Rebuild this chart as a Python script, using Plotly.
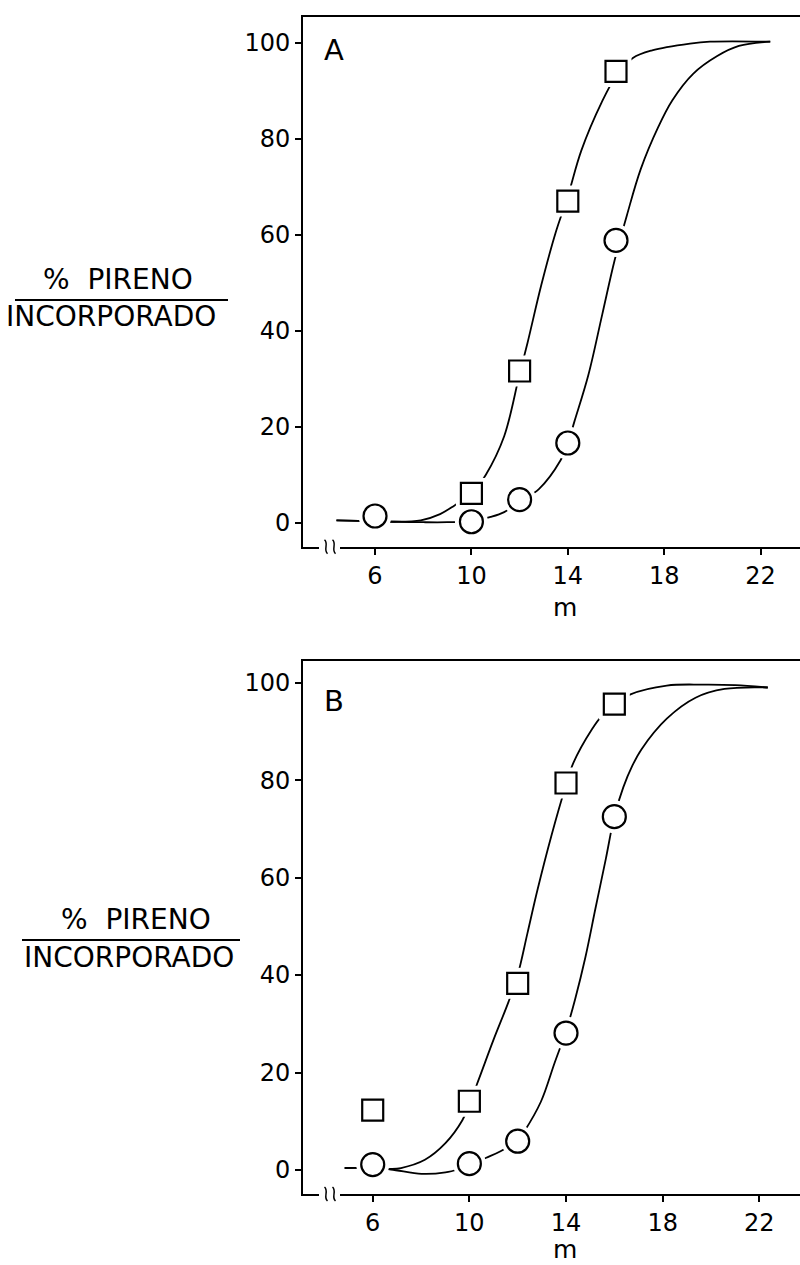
import plotly.graph_objects as go

# ---- data -------------------------------------------------------------
# chain length m on the x axis, % pyrene incorporated on the y axis
x_ticks = [6, 10, 14, 18, 22]
y_ticks = [0, 20, 40, 60, 80, 100]

# Panel A: measured points
a_sq_m = [10, 12, 14, 16]
a_sq_pct = [6.1, 31.6, 67.0, 94.0]
a_ci_m = [6, 10, 12, 14, 16]
a_ci_pct = [1.4, 0.2, 4.8, 16.6, 58.8]

# Panel A: hand-drawn fitted curves
a_sq_curve_m = [4.4, 5.3, 6.0, 6.8, 7.9, 8.7, 9.3, 10.0, 10.6, 11.36, 12.0, 12.33,
                12.9, 13.5, 14.0, 14.56, 15.4, 16.0, 16.7, 17.5, 19.07, 19.9, 22.4]
a_sq_curve_pct = [0.5, 0.4, 0.3, 0.2, 0.5, 1.8, 3.6, 6.0, 10.0, 18.0, 31.0, 37.5,
                  49.5, 60.5, 68.0, 77.5, 87.5, 93.0, 96.8, 98.4, 99.8, 100.2, 100.2]
a_ci_curve_m = [4.4, 5.3, 6.0, 6.8, 8.0, 9.0, 10.0, 10.8, 11.36, 12.0, 12.8, 13.7,
                14.0, 14.27, 14.85, 15.43, 15.94, 16.45, 17.03, 17.76, 18.34, 19.2,
                20.2, 21.1, 22.4]
a_ci_curve_pct = [0.5, 0.4, 0.3, 0.2, 0.1, 0.1, 0.3, 1.2, 2.2, 4.4, 7.0, 13.0,
                  16.5, 21.0, 30.7, 43.4, 54.6, 64.0, 73.7, 82.5, 88.0, 93.5,
                  97.2, 99.3, 100.2]

# Panel B: measured points
b_sq_m = [6, 10, 12, 14, 16]
b_sq_pct = [12.3, 14.1, 38.3, 79.4, 95.6]
b_ci_m = [6, 10, 12, 14, 16]
b_ci_pct = [1.1, 1.3, 5.9, 28.1, 72.5]

# Panel B: hand-drawn fitted curves
b_sq_curve_m = [4.84, 5.55, 6.0, 6.75, 7.17, 8.16, 9.01, 9.71, 10.0, 10.42, 10.99,
                11.62, 12.0, 12.4, 12.82, 13.39, 14.0, 14.3, 15.08, 15.5, 16.0,
                16.67, 18.17, 19.66, 21.0, 22.35]
b_sq_curve_pct = [0.4, 0.4, 0.3, 0.2, 0.4, 2.1, 5.5, 10.2, 13.5, 19.0, 26.6,
                  34.5, 40.0, 48.5, 57.5, 68.5, 79.0, 83.5, 90.5, 93.3, 95.5,
                  97.6, 99.4, 99.6, 99.5, 99.0]
b_ci_curve_m = [4.84, 5.55, 6.0, 6.75, 8.02, 9.01, 9.57, 10.0, 10.7, 11.27, 12.0,
                12.26, 12.96, 13.53, 14.0, 14.38, 14.8, 15.22, 15.65, 16.0, 16.37,
                16.75, 17.12, 18.17, 19.36, 20.56, 22.35]
b_ci_curve_pct = [0.4, 0.4, 0.3, 0.1, -0.8, -0.5, 0.2, 1.0, 2.5, 3.8, 6.0,
                  7.8, 14.0, 22.0, 28.5, 35.1, 43.6, 53.7, 63.9, 72.5, 78.5,
                  83.0, 86.3, 92.6, 96.9, 98.7, 99.0]

# ---- page geometry ------------------------------------------------------
W, H = 800, 1265
FONT = "DejaVu Sans"


def px(x):
    return x / W


def py(y):
    return 1 - y / H


fig = go.Figure()

panels = [
    dict(xa="x", ya="y",
         sq=(a_sq_m, a_sq_pct), ci=(a_ci_m, a_ci_pct),
         sq_curve=(a_sq_curve_m, a_sq_curve_pct),
         ci_curve=(a_ci_curve_m, a_ci_curve_pct)),
    dict(xa="x2", ya="y2",
         sq=(b_sq_m, b_sq_pct), ci=(b_ci_m, b_ci_pct),
         sq_curve=(b_sq_curve_m, b_sq_curve_pct),
         ci_curve=(b_ci_curve_m, b_ci_curve_pct)),
]

for p in panels:
    # fitted curves
    for cx, cy in (p["sq_curve"], p["ci_curve"]):
        fig.add_trace(go.Scatter(
            x=cx, y=cy, xaxis=p["xa"], yaxis=p["ya"], mode="lines",
            line=dict(color="black", width=1.8, shape="spline", smoothing=1.0),
            hoverinfo="skip", showlegend=False))
    # white halos so the curves stop short of the symbols
    for (mx, my), sym, size in ((p["sq"], "square", 31), (p["ci"], "circle", 33)):
        fig.add_trace(go.Scatter(
            x=mx, y=my, xaxis=p["xa"], yaxis=p["ya"], mode="markers",
            marker=dict(symbol=sym, size=size, color="white", line=dict(width=0)),
            hoverinfo="skip", showlegend=False))
    # open symbols
    for (mx, my), sym, size in ((p["sq"], "square", 21), (p["ci"], "circle", 23)):
        fig.add_trace(go.Scatter(
            x=mx, y=my, xaxis=p["xa"], yaxis=p["ya"], mode="markers",
            marker=dict(symbol=sym, size=size, color="white",
                        line=dict(color="black", width=2.2)),
            showlegend=False))

x_dom = [px(303), 1.0]
axis_common = dict(showgrid=False, zeroline=False, showline=True, linecolor="black",
                   linewidth=2, ticks="outside", ticklen=6, tickwidth=1.6,
                   tickcolor="black", tickfont=dict(family=FONT, size=24, color="black"))

fig.update_layout(
    width=W, height=H, margin=dict(l=0, r=0, t=0, b=0),
    paper_bgcolor="white", plot_bgcolor="white",
    xaxis=dict(domain=x_dom, range=[3.012, 23.635], anchor="y", mirror=True,
               tickvals=x_ticks, **axis_common),
    yaxis=dict(domain=[py(546.7), py(16.7)], range=[-5.0, 105.4], anchor="x",
               tickvals=y_ticks, **axis_common),
    xaxis2=dict(domain=x_dom, range=[3.115, 23.684], anchor="y2", mirror=True,
                tickvals=x_ticks, **axis_common),
    yaxis2=dict(domain=[py(1194), py(660.7)], range=[-4.93, 104.5], anchor="x2",
                tickvals=y_ticks, **axis_common),
)

annotations = []
shapes = []


def text(t, x, y, size):
    annotations.append(dict(text=t, x=px(x), y=py(y), xref="paper", yref="paper",
                            xanchor="center", yanchor="middle", showarrow=False,
                            font=dict(family=FONT, size=size, color="black")))


# panel letters
text("A", 334, 50.5, 29)
text("B", 333.5, 701, 29)
# x axis titles
text("m", 565, 607, 25)
text("m", 565, 1249, 25)
# y axis titles written as a fraction
for (cx1, cy1, lx0, lx1, ly, cx2, cy2) in ((117.5, 279, 15, 228, 300, 111, 316.5),
                                          (135.5, 919, 22, 240, 940, 128.5, 957.5)):
    text("%\u00a0\u00a0PIRENO", cx1, cy1, 28)
    text("INCORPORADO", cx2, cy2, 28)
    shapes.append(dict(type="line", xref="paper", yref="paper",
                       x0=px(lx0), x1=px(lx1), y0=py(ly), y1=py(ly),
                       line=dict(color="black", width=1.8)))

# axis break marks on the x axes
for ay in (546.7, 1194):
    shapes.append(dict(type="rect", xref="paper", yref="paper",
                       x0=px(319), x1=px(340), y0=py(ay + 3), y1=py(ay - 3),
                       fillcolor="white", line=dict(width=0), layer="above"))
    for sx in (326, 334):
        path = (f"M {px(sx - 1.5)},{py(ay - 7)} "
                f"C {px(sx + 3)},{py(ay - 3)} {px(sx - 3)},{py(ay + 3)} "
                f"{px(sx + 1.5)},{py(ay + 7)}")
        shapes.append(dict(type="path", xref="paper", yref="paper", path=path,
                           line=dict(color="black", width=1.5), layer="above"))

fig.update_layout(annotations=annotations, shapes=shapes)

fig.write_html("out.html")
